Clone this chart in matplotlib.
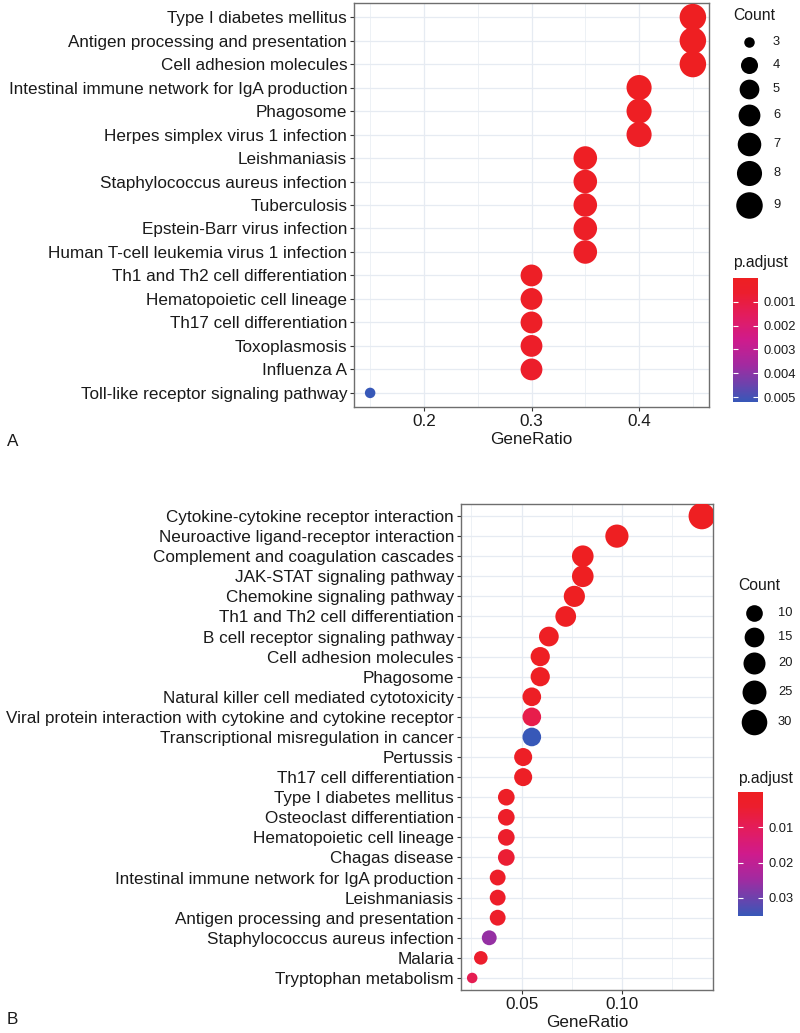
import numpy as np
import matplotlib
matplotlib.use("Agg")
import matplotlib.pyplot as plt
from matplotlib.colors import LinearSegmentedColormap, Normalize
from matplotlib.cm import ScalarMappable

plt.rcParams['font.family'] = ['Liberation Sans', 'DejaVu Sans']

# Panel A data
terms_a = ["Type I diabetes mellitus", "Antigen processing and presentation",
           "Cell adhesion molecules", "Intestinal immune network for IgA production",
           "Phagosome", "Herpes simplex virus 1 infection", "Leishmaniasis",
           "Staphylococcus aureus infection", "Tuberculosis", "Epstein-Barr virus infection",
           "Human T-cell leukemia virus 1 infection", "Th1 and Th2 cell differentiation",
           "Hematopoietic cell lineage", "Th17 cell differentiation", "Toxoplasmosis",
           "Influenza A", "Toll-like receptor signaling pathway"]
ratio_a = [0.45, 0.45, 0.45, 0.40, 0.40, 0.40, 0.35, 0.35, 0.35, 0.35, 0.35,
           0.30, 0.30, 0.30, 0.30, 0.30, 0.15]
count_a = [9, 9, 9, 8, 8, 8, 7, 7, 7, 7, 7, 6, 6, 6, 6, 6, 3]
padj_a = [0.00001, 0.00002, 0.00004, 0.00008, 0.0001, 0.0002, 0.0001, 0.0002, 0.0002,
          0.0003, 0.0003, 0.0002, 0.0003, 0.0003, 0.0004, 0.0005, 0.0052]
xticks_a = [0.2, 0.3, 0.4]
xticklabels_a = ["0.2", "0.3", "0.4"]
cbar_ticks_a = [0.001, 0.002, 0.003, 0.004, 0.005]
cbar_labels_a = ["0.001", "0.002", "0.003", "0.004", "0.005"]
legend_counts_a = [3, 4, 5, 6, 7, 8, 9]

# Panel B data
terms_b = ["Cytokine-cytokine receptor interaction", "Neuroactive ligand-receptor interaction",
           "Complement and coagulation cascades", "JAK-STAT signaling pathway",
           "Chemokine signaling pathway", "Th1 and Th2 cell differentiation",
           "B cell receptor signaling pathway", "Cell adhesion molecules", "Phagosome",
           "Natural killer cell mediated cytotoxicity",
           "Viral protein interaction with cytokine and cytokine receptor",
           "Transcriptional misregulation in cancer", "Pertussis", "Th17 cell differentiation",
           "Type I diabetes mellitus", "Osteoclast differentiation", "Hematopoietic cell lineage",
           "Chagas disease", "Intestinal immune network for IgA production", "Leishmaniasis",
           "Antigen processing and presentation", "Staphylococcus aureus infection",
           "Malaria", "Tryptophan metabolism"]
ratio_b = [0.1398, 0.0975, 0.0805, 0.0805, 0.0763, 0.0720, 0.0636, 0.0593, 0.0593,
           0.0551, 0.0551, 0.0551, 0.0508, 0.0508, 0.0424, 0.0424, 0.0424, 0.0424,
           0.0381, 0.0381, 0.0381, 0.0339, 0.0297, 0.0254]
count_b = [33, 23, 19, 19, 18, 17, 15, 14, 14, 13, 13, 13, 12, 12, 10, 10, 10, 10,
           9, 9, 9, 8, 7, 6]
padj_b = [1e-9, 2e-6, 1e-5, 1e-4, 2e-4, 4e-4, 6e-4, 8e-4, 9e-4, 1.2e-3, 8e-3, 0.0351,
          1.5e-3, 1.6e-3, 2e-3, 2.5e-3, 3.5e-3, 5e-3, 2.5e-3, 2.8e-3, 3e-3, 0.026,
          4e-3, 9e-3]
xticks_b = [0.05, 0.10]
xticklabels_b = ["0.05", "0.10"]
cbar_ticks_b = [0.01, 0.02, 0.03]
cbar_labels_b = ["0.01", "0.02", "0.03"]
legend_counts_b = [10, 15, 20, 25, 30]

W, H = 800, 1033
fig = plt.figure(figsize=(W / 100, H / 100), dpi=100)

cmap = LinearSegmentedColormap.from_list(
    "padj", [(0.0, "#EE1F22"), (0.12, "#EC1E2E"), (0.3, "#E31C5E"), (0.5, "#CF1B8C"),
             (0.7, "#A32AA0"), (0.85, "#6F41AC"), (1.0, "#3758B8")])
text_col = "#1A1A1A"
grid_col = "#E6EBF2"


def rect(l, t, r, b):
    return [l / W, 1 - b / H, (r - l) / W, (b - t) / H]


def diam(c, cmin, cmax):
    # ggplot-like area scale, diameter in pixels
    return 10.5 + 16 * np.sqrt((np.asarray(c, float) - cmin) / (cmax - cmin))


def area(d):
    return (np.asarray(d) * 0.72) ** 2


# overlay for legends and panel letters (pixel coordinates)
lax = fig.add_axes([0, 0, 1, 1])
lax.set_xlim(0, W)
lax.set_ylim(H, 0)
lax.axis('off')
lax.patch.set_visible(False)


def dot_panel(box, terms, ratio, count, padj, xticks, xticklabels):
    ax = fig.add_axes(rect(*box))
    n = len(terms)
    y = np.arange(n)
    cmin, cmax = min(count), max(count)
    norm = Normalize(min(padj), max(padj))
    ax.scatter(ratio, y, s=area(diam(count, cmin, cmax)), c=padj, cmap=cmap, norm=norm,
               linewidths=0, zorder=3)
    ax.set_yticks(y)
    ax.set_yticklabels(terms)
    ax.set_xticks(xticks)
    ax.set_xticklabels(xticklabels)
    step = xticks[1] - xticks[0]
    minor = np.arange(xticks[0] - step / 2, max(ratio) + step, step)
    ax.set_xticks(minor, minor=True)
    span = max(ratio) - min(ratio)
    ax.set_xlim(min(ratio) - 0.05 * span, max(ratio) + 0.05 * span)
    ax.set_ylim(n - 0.4, -0.6)
    ax.tick_params(which='major', length=2.9, width=0.8, color="#333333", pad=2,
                   labelsize=12.3, labelcolor=text_col)
    ax.tick_params(which='minor', length=0)
    ax.grid(which='major', color=grid_col, lw=0.9, zorder=0)
    ax.grid(which='minor', axis='x', color=grid_col, lw=0.5, zorder=0)
    ax.set_axisbelow(True)
    for sp in ax.spines.values():
        sp.set_color("#6E6E6E")
        sp.set_linewidth(1.0)
    ax.set_xlabel("GeneRatio", fontsize=12.3, color=text_col, labelpad=2)
    return ax, norm, cmin, cmax


def size_legend(x0, ytitle, values, cmin, cmax):
    lax.text(x0, ytitle, "Count", fontsize=11.3, color=text_col, ha='left', va='center')
    ds = diam(values, cmin, cmax)
    hs = np.maximum(ds + 5.5, 23)
    yc = ytitle + 27
    for i, v in enumerate(values):
        if i > 0:
            yc += (hs[i - 1] + hs[i]) / 2
        lax.scatter([x0 + 16], [yc], s=area(ds[i]), c="black", linewidths=0)
        lax.text(x0 + 40, yc, str(v), fontsize=9.3, color=text_col, ha='left', va='center')


def color_legend(box, ytitle, norm, ticks, labels):
    lax.text(box[0], ytitle, "p.adjust", fontsize=11.3, color=text_col, ha='left', va='center')
    cax = fig.add_axes(rect(*box))
    cb = fig.colorbar(ScalarMappable(norm=norm, cmap=cmap), cax=cax)
    cb.outline.set_visible(False)
    cax.invert_yaxis()
    cb.set_ticks(ticks)
    cb.set_ticklabels(labels)
    cax.tick_params(direction='in', color='white', length=3.5, width=0.8,
                    left=True, right=True, labelsize=9.3, labelcolor=text_col, pad=4)


# Panel A
ax_a, norm_a, cmin_a, cmax_a = dot_panel((354, 3, 709, 407), terms_a, ratio_a, count_a,
                                         padj_a, xticks_a, xticklabels_a)
size_legend(733, 15, legend_counts_a, cmin_a, cmax_a)
color_legend((733, 278, 758, 402), 263, norm_a, cbar_ticks_a, cbar_labels_a)
lax.text(7, 442, "A", fontsize=12.3, color=text_col, ha='left', va='center')

# Panel B
ax_b, norm_b, cmin_b, cmax_b = dot_panel((460.7, 504, 713.3, 990), terms_b, ratio_b, count_b,
                                         padj_b, xticks_b, xticklabels_b)
size_legend(738, 586, legend_counts_b, cmin_b, cmax_b)
color_legend((738, 792, 762.7, 916), 778, norm_b, cbar_ticks_b, cbar_labels_b)
lax.text(7, 1020, "B", fontsize=12.3, color=text_col, ha='left', va='center')

fig.savefig("out.png", dpi=100)
